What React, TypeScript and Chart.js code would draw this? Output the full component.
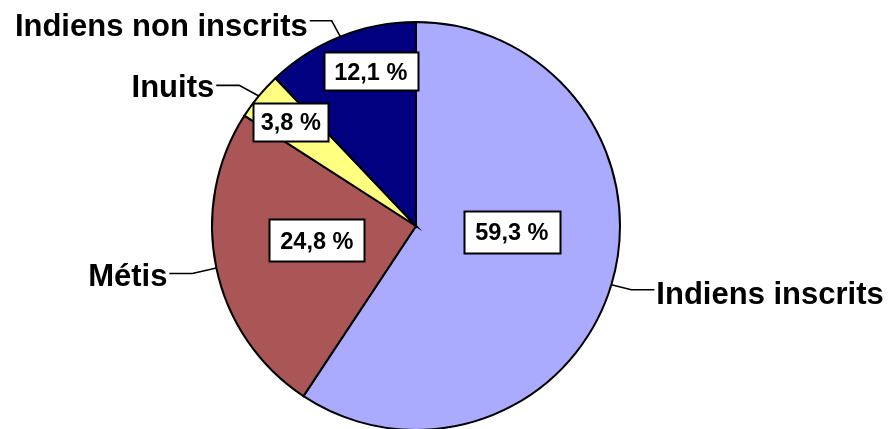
import React, { useEffect, useRef } from "react";
import { Chart, registerables } from "chart.js";

Chart.register(...registerables);

// ---- Data ----
const categories = ["Indiens inscrits", "Métis", "Inuits", "Indiens non inscrits"];
const shares = [59.3, 24.8, 3.8, 12.1];
const valueLabels = ["59,3 %", "24,8 %", "3,8 %", "12,1 %"];
const sliceColors = ["#AAAAFF", "#AA5656", "#FFFF80", "#000080"];

// ---- Label layout (styling, relative to pie geometry) ----
// leader: [elbow dx, elbow dy, horizontal length, side (+1 right / -1 left), baseline offset]
const leaderLayout: number[][] = [
  [20, 5, 23, 1, 14.5],
  [-24, 5.5, 23, -1, 12.5],
  [-19.6, -10.6, 23, -1, 11.5],
  [-8.6, -15.8, 22, -1, 15],
];
// inner value boxes: [centre dx, centre dy] in units of the radius, [total horizontal padding, height] in px
const boxLayout: number[][] = [
  [0.47, 0.028, 23, 42],
  [-0.486, 0.069, 22, 42],
  [-0.614, -0.513, 15, 37.5],
  [-0.222, -0.759, 21, 37.5],
];

const FONT_OUTER = "bold 31px 'Liberation Sans', Arial, sans-serif";
const FONT_INNER = "bold 23.5px 'Liberation Sans', Arial, sans-serif";

const labelPlugin = {
  id: "pieLabels",
  afterDatasetsDraw(chart: any) {
    const ctx = chart.ctx as CanvasRenderingContext2D;
    const meta = chart.getDatasetMeta(0);
    meta.data.forEach((arc: any, i: number) => {
      const p = arc.getProps(["x", "y", "startAngle", "endAngle", "outerRadius"], true);
      const mid = (p.startAngle + p.endAngle) / 2;
      const ex = p.x + Math.cos(mid) * p.outerRadius;
      const ey = p.y + Math.sin(mid) * p.outerRadius;
      const [dx, dy, hlen, side, bOff] = leaderLayout[i];
      const elx = ex + dx;
      const ely = ey + dy;
      const endx = elx + side * hlen;
      ctx.save();
      ctx.strokeStyle = "#000";
      ctx.lineWidth = 1.6;
      ctx.beginPath();
      ctx.moveTo(ex, ey);
      ctx.lineTo(elx, ely);
      ctx.lineTo(endx, ely);
      ctx.stroke();
      ctx.font = FONT_OUTER;
      ctx.fillStyle = "#000";
      ctx.textBaseline = "alphabetic";
      ctx.textAlign = side > 0 ? "left" : "right";
      ctx.fillText(categories[i], endx + side * 2, ely + bOff);

      // inner box
      const [bx, by, padW, h] = boxLayout[i];
      const cx = p.x + bx * p.outerRadius;
      const cy = p.y + by * p.outerRadius;
      ctx.font = FONT_INNER;
      const tw = ctx.measureText(valueLabels[i]).width;
      const w = Math.round(tw + padW);
      const left = Math.round(cx - w / 2) + 0.5;
      const top = Math.round(cy - h / 2) + 0.5;
      ctx.fillStyle = "#FFFFFF";
      ctx.fillRect(left, top, w, Math.round(h));
      ctx.lineWidth = 2;
      ctx.strokeRect(left, top, w, Math.round(h));
      ctx.fillStyle = "#000";
      ctx.textAlign = "center";
      ctx.textBaseline = "alphabetic";
      ctx.fillText(valueLabels[i], cx, cy + 8.5);
      ctx.restore();
    });
  },
};

export default function App() {
  const canvasRef = useRef<HTMLCanvasElement | null>(null);

  useEffect(() => {
    document.body.style.margin = "0";
    document.body.style.overflow = "hidden";
    const canvas = canvasRef.current;
    if (!canvas) return;
    const chart = new Chart(canvas, {
      type: "pie",
      data: {
        labels: categories,
        datasets: [
          {
            data: shares,
            backgroundColor: sliceColors,
            borderColor: "#000000",
            borderWidth: 2,
            hoverOffset: 0,
            offset: 0,
          },
        ],
      },
      options: {
        animation: false,
        responsive: false,
        maintainAspectRatio: false,
        events: [],
        layout: { padding: { top: 21, bottom: 39, left: 211, right: 267 } },
        elements: { arc: { borderAlign: "center", borderJoinStyle: "miter" } as any },
        plugins: {
          legend: { display: false },
          tooltip: { enabled: false },
          title: { display: false },
        },
      },
      plugins: [labelPlugin],
    });
    return () => chart.destroy();
  }, []);

  return (
    <div style={{ position: "absolute", left: 0, top: 0, width: 888, height: 429, overflow: "hidden", background: "#fff" }}>
      <canvas ref={canvasRef} width={888} height={470} style={{ display: "block", width: 888, height: 470 }} />
    </div>
  );
}
